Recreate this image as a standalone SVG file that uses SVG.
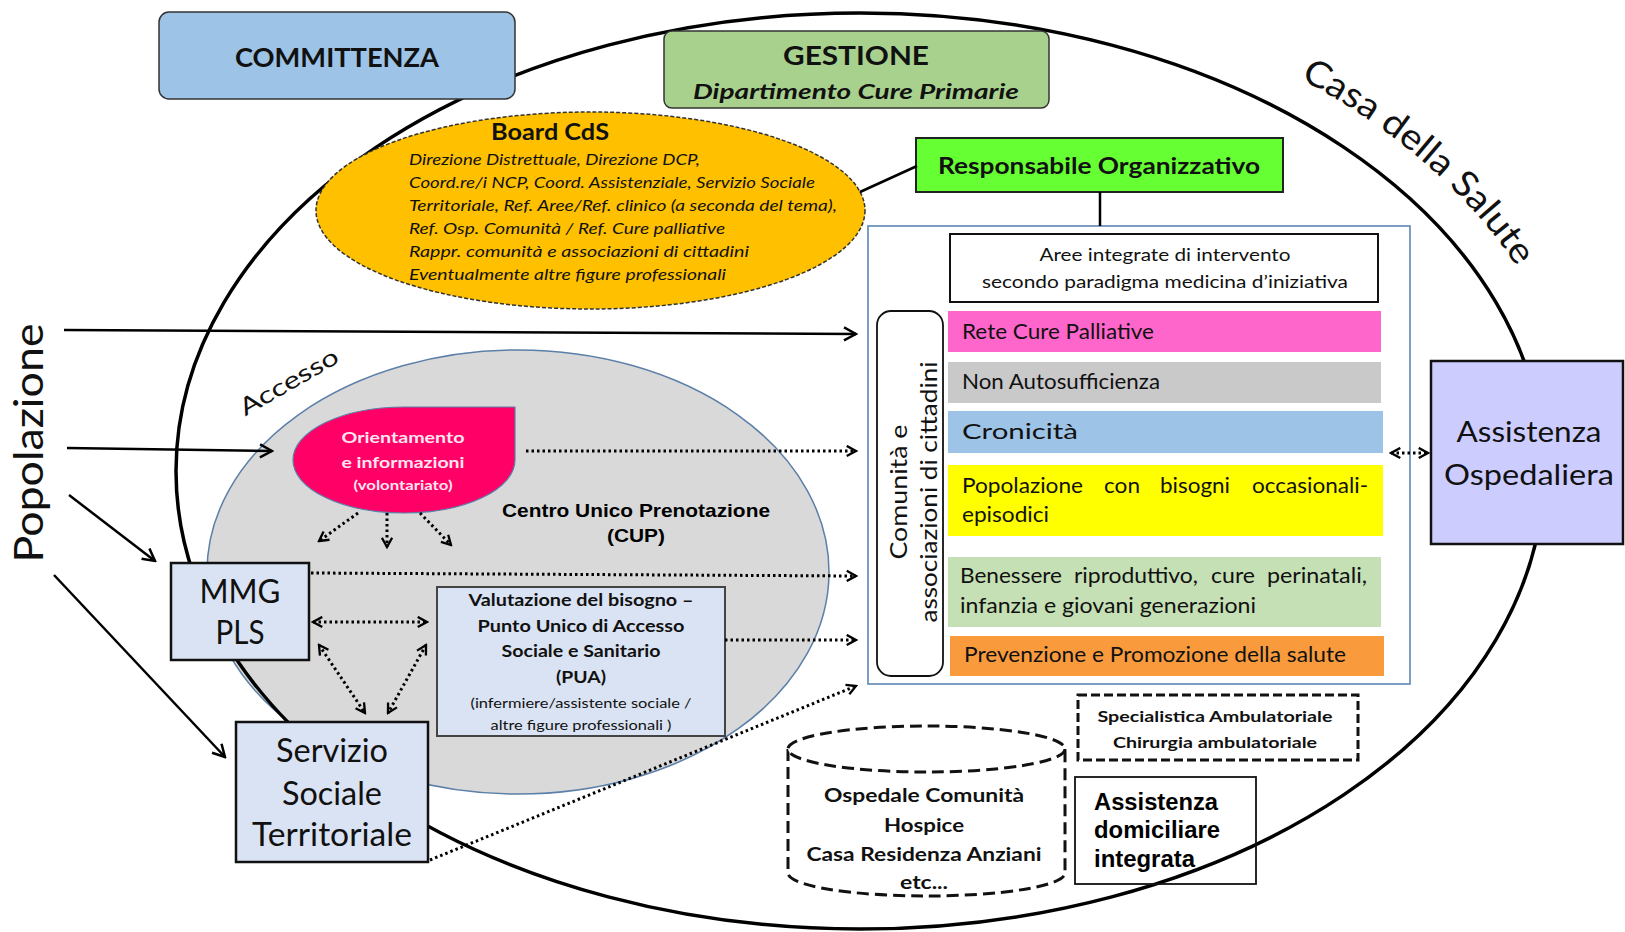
<svg xmlns="http://www.w3.org/2000/svg" width="1625" height="932" viewBox="0 0 1625 932">
<style>
.cal{font-family:Lato,"Open Sans","Liberation Sans",sans-serif;fill:#111}
.ari{font-family:"Liberation Sans",Arial,sans-serif;fill:#000}
.b{font-weight:bold}
.it{font-style:italic}
.mid{text-anchor:middle}
.box{stroke:#111;stroke-width:2.5}
.dot{fill:none;stroke:#000;stroke-width:3;stroke-dasharray:2.5 3}
.sol{fill:none;stroke:#000;stroke-width:2.5}
.bar{stroke:none}
.pk{fill:#FFE6F0}
</style>
<defs>
<marker id="ah" viewBox="0 0 16 16" refX="14" refY="8" markerWidth="16" markerHeight="16" markerUnits="userSpaceOnUse" orient="auto-start-reverse"><path d="M2,1.5 L14,8 L2,14.5" fill="none" stroke="#000" stroke-width="2.5"/></marker>
<marker id="ahs" viewBox="0 0 14 14" refX="12" refY="7" markerWidth="13" markerHeight="13" markerUnits="userSpaceOnUse" orient="auto-start-reverse"><path d="M2,1.5 L12,7 L2,12.5" fill="none" stroke="#000" stroke-width="2.5"/></marker>
<path id="casaArc" d="M1242 51 A721 495 0 0 1 1537.5 301.7"/>
</defs>
<rect width="1625" height="932" fill="#fff"/>

<g id="accesso">
<ellipse cx="518" cy="572" rx="311" ry="222" fill="#D9D9D9" stroke="#5B7FA8" stroke-width="1.5"/>
<text class="cal" font-size="24" transform="translate(293 389) rotate(-30)" text-anchor="middle" textLength="110" lengthAdjust="spacingAndGlyphs">Accesso</text>
</g>

<g id="casa-della-salute">
<ellipse cx="860" cy="471" rx="684" ry="458" fill="none" stroke="#000" stroke-width="3.5"/>
<text class="cal" font-size="36"><textPath href="#casaArc" startOffset="53%" text-anchor="middle" textLength="290" lengthAdjust="spacingAndGlyphs">Casa della Salute</textPath></text>
</g>

<g id="committenza">
<rect x="159" y="12" width="356" height="87" rx="10" fill="#9DC3E6" stroke="#333" stroke-width="1.5"/>
<text class="cal b mid" x="337" y="67" font-size="27" textLength="204" lengthAdjust="spacingAndGlyphs">COMMITTENZA</text>
</g>

<g id="gestione">
<rect x="664" y="31" width="385" height="77" rx="8" fill="#A9D18E" stroke="#333" stroke-width="1.5"/>
<text class="cal b mid" x="856" y="65" font-size="27" textLength="146" lengthAdjust="spacingAndGlyphs">GESTIONE</text>
<text class="cal b it mid" x="856" y="99" font-size="20" textLength="326" lengthAdjust="spacingAndGlyphs">Dipartimento Cure  Primarie</text>
</g>

<g id="board-cds">
<ellipse cx="590.5" cy="210.5" rx="274.5" ry="98.5" fill="#FFC000" stroke="#333" stroke-width="1.5" stroke-dasharray="4 2"/>
<text class="cal b mid" x="550" y="140" font-size="23" textLength="118" lengthAdjust="spacingAndGlyphs">Board CdS</text>
<g class="cal it" font-size="16">
<text x="409" y="165" textLength="291" lengthAdjust="spacingAndGlyphs">Direzione Distrettuale, Direzione DCP,</text>
<text x="409" y="188" textLength="406" lengthAdjust="spacingAndGlyphs">Coord.re/i NCP, Coord. Assistenziale, Servizio Sociale</text>
<text x="409" y="211" textLength="428" lengthAdjust="spacingAndGlyphs">Territoriale, Ref. Aree/Ref. clinico (a seconda del tema),</text>
<text x="409" y="234" textLength="316" lengthAdjust="spacingAndGlyphs">Ref. Osp. Comunità  / Ref. Cure palliative</text>
<text x="409" y="257" textLength="340" lengthAdjust="spacingAndGlyphs">Rappr.  comunità  e  associazioni di cittadini</text>
<text x="409" y="280" textLength="317" lengthAdjust="spacingAndGlyphs">Eventualmente  altre figure professionali</text>
</g>
</g>

<g id="responsabile-organizzativo">
<rect x="916" y="138" width="367" height="54" fill="#66FF33" stroke="#222" stroke-width="2"/>
<text class="cal b mid" x="1099" y="174" font-size="22" textLength="322" lengthAdjust="spacingAndGlyphs">Responsabile  Organizzativo</text>
</g>

<g id="aree-container">
<rect x="868" y="226" width="542" height="458" fill="#fff" stroke="#6F93BC" stroke-width="1.8"/>
</g>

<g id="aree-integrate">
<rect x="950" y="234" width="428" height="68" fill="#fff" stroke="#111" stroke-width="2"/>
<text class="cal mid" x="1165" y="261" font-size="18" textLength="251" lengthAdjust="spacingAndGlyphs">Aree integrate di intervento</text>
<text class="cal mid" x="1165" y="288" font-size="18" textLength="366" lengthAdjust="spacingAndGlyphs">secondo paradigma medicina d’iniziativa</text>
</g>

<g id="comunita-associazioni">
<rect x="877" y="311" width="66" height="365" rx="14" fill="#fff" stroke="#111" stroke-width="1.8"/>
<text class="cal mid" font-size="24" transform="translate(907 492) rotate(-90)" textLength="135" lengthAdjust="spacingAndGlyphs">Comunità  e</text>
<text class="cal mid" font-size="24" transform="translate(937 492) rotate(-90)" textLength="261" lengthAdjust="spacingAndGlyphs">associazioni di cittadini</text>
</g>

<g id="rete-cure-palliative">
<rect class="bar" x="948" y="311" width="433" height="41" fill="#FF66CC"/>
<text class="cal" x="962" y="339" font-size="21" textLength="192" lengthAdjust="spacingAndGlyphs">Rete Cure Palliative</text>
</g>
<g id="non-autosufficienza">
<rect class="bar" x="948" y="362" width="433" height="41" fill="#C9C9C9"/>
<text class="cal" x="962" y="389" font-size="21" textLength="198" lengthAdjust="spacingAndGlyphs">Non Autosufficienza</text>
</g>
<g id="cronicita">
<rect class="bar" x="948" y="411" width="435" height="42" fill="#9DC3E6"/>
<text class="cal" x="962" y="439" font-size="21" textLength="116" lengthAdjust="spacingAndGlyphs">Cronicità</text>
</g>
<g id="popolazione-bisogni">
<rect class="bar" x="948" y="465" width="435" height="71" fill="#FFFF00"/>
<g class="cal" font-size="21">
<text x="962" y="493" textLength="121" lengthAdjust="spacingAndGlyphs">Popolazione</text>
<text x="1104" y="493" textLength="36" lengthAdjust="spacingAndGlyphs">con</text>
<text x="1160" y="493" textLength="70" lengthAdjust="spacingAndGlyphs">bisogni</text>
<text x="1252" y="493" textLength="116" lengthAdjust="spacingAndGlyphs">occasionali-</text>
<text x="962" y="522" textLength="87" lengthAdjust="spacingAndGlyphs">episodici</text>
</g>
</g>
<g id="benessere">
<rect class="bar" x="948" y="557" width="433" height="70" fill="#C5E0B4"/>
<g class="cal" font-size="21">
<text x="960" y="583" textLength="102" lengthAdjust="spacingAndGlyphs">Benessere</text>
<text x="1074" y="583" textLength="124" lengthAdjust="spacingAndGlyphs">riproduttivo,</text>
<text x="1211" y="583" textLength="44" lengthAdjust="spacingAndGlyphs">cure</text>
<text x="1267" y="583" textLength="100" lengthAdjust="spacingAndGlyphs">perinatali,</text>
<text x="960" y="613" textLength="296" lengthAdjust="spacingAndGlyphs">infanzia e giovani  generazioni</text>
</g>
</g>
<g id="prevenzione">
<rect class="bar" x="950" y="636" width="434" height="40" fill="#F99B3D"/>
<text class="cal" x="964" y="662" font-size="21" textLength="382" lengthAdjust="spacingAndGlyphs">Prevenzione e Promozione della salute</text>
</g>

<g id="assistenza-ospedaliera">
<rect x="1431" y="361" width="192" height="183" fill="#CCCCFF" stroke="#111" stroke-width="2.5"/>
<text class="cal mid" x="1529" y="442" font-size="28" textLength="145" lengthAdjust="spacingAndGlyphs">Assistenza</text>
<text class="cal mid" x="1529" y="485" font-size="28" textLength="170" lengthAdjust="spacingAndGlyphs">Ospedaliera</text>
</g>

<g id="popolazione">
<text class="cal" font-size="40" transform="translate(43 443) rotate(-90)" text-anchor="middle" textLength="239" lengthAdjust="spacingAndGlyphs">Popolazione</text>
</g>

<g id="orientamento">
<path d="M404 407 L515 407 L515 460 A111 53 0 0 1 404 513 A111 53 0 0 1 293 460 A111 53 0 0 1 404 407 Z" fill="#FF0066" stroke="#5B7FA8" stroke-width="1.2"/>
<text class="cal b mid pk" x="403" y="443" font-size="16" textLength="123" lengthAdjust="spacingAndGlyphs">Orientamento</text>
<text class="cal b mid pk" x="403" y="468" font-size="16" textLength="123" lengthAdjust="spacingAndGlyphs">e informazioni</text>
<text class="cal b mid pk" x="403" y="490" font-size="13" textLength="99" lengthAdjust="spacingAndGlyphs">(volontariato)</text>
</g>

<g id="cup">
<text class="ari b mid" x="636" y="517" font-size="19" textLength="268" lengthAdjust="spacingAndGlyphs">Centro Unico Prenotazione</text>
<text class="ari b mid" x="636" y="542" font-size="19" textLength="58" lengthAdjust="spacingAndGlyphs">(CUP)</text>
</g>

<g id="mmg-pls">
<rect class="box" x="171" y="563" width="138" height="97" fill="#DAE3F3"/>
<text class="cal mid" x="240" y="603" font-size="32" textLength="81" lengthAdjust="spacingAndGlyphs">MMG</text>
<text class="cal mid" x="240" y="644" font-size="32" textLength="49" lengthAdjust="spacingAndGlyphs">PLS</text>
</g>

<g id="pua">
<rect x="437" y="587" width="288" height="149" fill="#DAE3F3" stroke="#444" stroke-width="2"/>
<g class="cal mid b" font-size="17">
<text x="581" y="606" textLength="225" lengthAdjust="spacingAndGlyphs">Valutazione del bisogno –</text>
<text x="581" y="632" textLength="207" lengthAdjust="spacingAndGlyphs">Punto Unico  di Accesso</text>
<text x="581" y="657" textLength="159" lengthAdjust="spacingAndGlyphs">Sociale e Sanitario</text>
<text x="581" y="683" textLength="50" lengthAdjust="spacingAndGlyphs">(PUA)</text>
</g>
<text class="cal mid" x="581" y="708" font-size="14" textLength="221" lengthAdjust="spacingAndGlyphs">(infermiere/assistente sociale /</text>
<text class="cal mid" x="581" y="730" font-size="14" textLength="181" lengthAdjust="spacingAndGlyphs">altre figure professionali )</text>
</g>

<g id="servizio-sociale">
<rect class="box" x="236" y="722" width="192" height="140" fill="#DAE3F3"/>
<text class="cal mid" x="332" y="762" font-size="32" textLength="112" lengthAdjust="spacingAndGlyphs">Servizio</text>
<text class="cal mid" x="332" y="805" font-size="32" textLength="100" lengthAdjust="spacingAndGlyphs">Sociale</text>
<text class="cal mid" x="332" y="846" font-size="32" textLength="160" lengthAdjust="spacingAndGlyphs">Territoriale</text>
</g>

<g id="specialistica">
<rect x="1078" y="695" width="280" height="65" fill="#fff" stroke="#111" stroke-width="3" stroke-dasharray="9 4"/>
<text class="cal b mid" x="1215" y="722" font-size="16" textLength="235" lengthAdjust="spacingAndGlyphs">Specialistica Ambulatoriale</text>
<text class="cal b mid" x="1215" y="748" font-size="16" textLength="204" lengthAdjust="spacingAndGlyphs">Chirurgia ambulatoriale</text>
</g>

<g id="strutture-intermedie">
<path d="M788 749 L788 873 A138.5 23 0 0 0 1065 873 L1065 749" fill="#fff" stroke="#111" stroke-width="3" stroke-dasharray="12 6"/>
<ellipse cx="926.5" cy="749" rx="138.5" ry="23" fill="#fff" stroke="#111" stroke-width="3" stroke-dasharray="12 6"/>
<g class="cal b mid" font-size="18">
<text x="924" y="802" textLength="200" lengthAdjust="spacingAndGlyphs">Ospedale Comunità</text>
<text x="924" y="832" textLength="80" lengthAdjust="spacingAndGlyphs">Hospice</text>
<text x="924" y="861" textLength="235" lengthAdjust="spacingAndGlyphs">Casa Residenza Anziani</text>
<text x="924" y="889" textLength="48" lengthAdjust="spacingAndGlyphs">etc...</text>
</g>
</g>

<g id="assistenza-domiciliare">
<rect x="1075" y="777" width="181" height="107" fill="none" stroke="#111" stroke-width="1.8"/>
<text class="ari b" x="1094" y="810" font-size="23" textLength="124" lengthAdjust="spacingAndGlyphs">Assistenza</text>
<text class="ari b" x="1094" y="838" font-size="23" textLength="126" lengthAdjust="spacingAndGlyphs">domiciliare</text>
<text class="ari b" x="1094" y="867" font-size="23" textLength="101" lengthAdjust="spacingAndGlyphs">integrata</text>
</g>

<g id="connectors">
<line class="sol" x1="860" y1="192" x2="917" y2="166"/>
<line class="sol" x1="1100" y1="192" x2="1100" y2="226" stroke-width="3"/>
<path class="sol" d="M64 330 L856 334" marker-end="url(#ah)"/>
<path class="sol" d="M67 448 L272 451" marker-end="url(#ah)"/>
<path class="sol" d="M69 495 L155 561" marker-end="url(#ah)"/>
<path class="sol" d="M54 575 L225 757" marker-end="url(#ah)"/>
<path class="dot" d="M526 451 L856 451" marker-end="url(#ahs)"/>
<path class="dot" d="M311 573 L856 576" marker-end="url(#ahs)"/>
<path class="dot" d="M725 640 L856 640" marker-end="url(#ahs)"/>
<path class="dot" d="M430 860 L856 686" marker-end="url(#ahs)"/>
<path class="dot" d="M313 622 L427 622" marker-start="url(#ahs)" marker-end="url(#ahs)"/>
<path class="dot" d="M319 645 L365 713" marker-start="url(#ahs)" marker-end="url(#ahs)"/>
<path class="dot" d="M426 645 L388 713" marker-start="url(#ahs)" marker-end="url(#ahs)"/>
<path class="dot" d="M358 513 L319 541" marker-end="url(#ahs)"/>
<path class="dot" d="M387 513 L387 547" marker-end="url(#ahs)"/>
<path class="dot" d="M420 513 L451 545" marker-end="url(#ahs)"/>
<path class="dot" d="M1391 453 L1428 453" marker-start="url(#ahs)" marker-end="url(#ahs)"/>
</g>
</svg>
